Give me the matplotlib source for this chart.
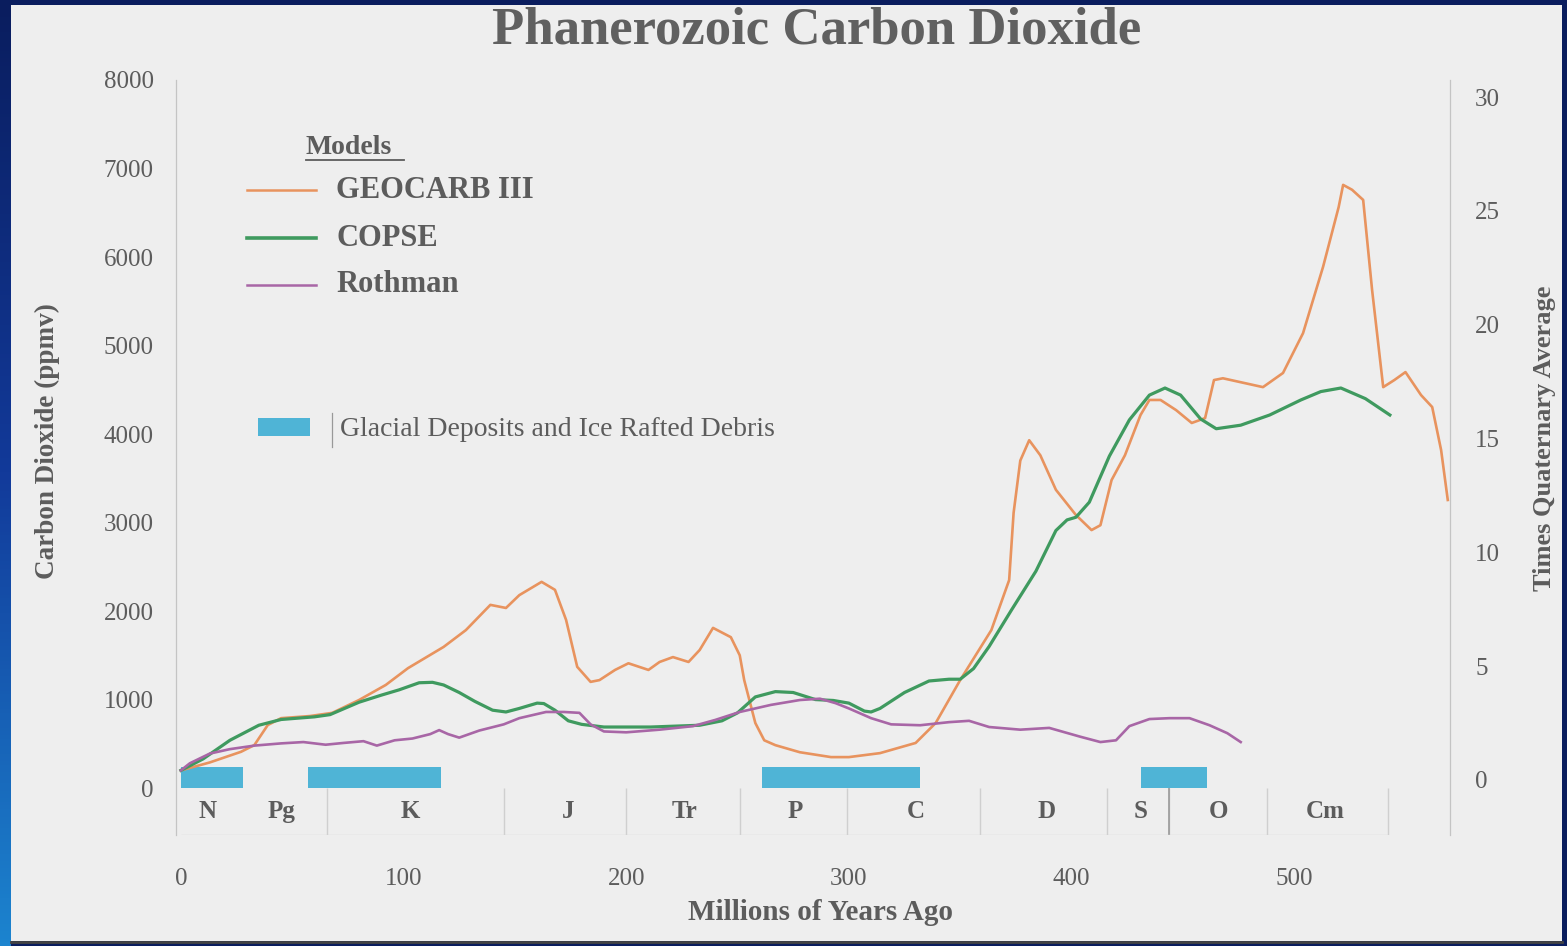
import matplotlib.pyplot as plt
import numpy as np
from matplotlib.patches import Rectangle
from matplotlib.lines import Line2D
from matplotlib.colors import LinearSegmentedColormap

# Data (millions of years ago, ppmv)
geocarb_age = [0, 13, 27, 33, 39, 45, 58, 68, 80, 92, 102, 118, 128, 139, 146, 152, 162, 168,
               173, 178, 184, 188, 195, 201, 210, 215, 221, 228, 233, 239, 247, 251, 253, 258,
               262, 267, 278, 292, 300, 314, 330, 339, 350, 364, 372, 374, 377, 381, 386, 393,
               402, 409, 413, 418, 424, 431, 435, 440, 447, 454, 460, 464, 468, 486, 495, 504,
               513, 520, 522, 526, 531, 535, 540, 545, 550, 557, 562, 566, 569]
geocarb_co2 = [200, 290, 410, 486, 712, 790, 814, 850, 995, 1165, 1355, 1595, 1785, 2070, 2035,
               2180, 2330, 2240, 1900, 1370, 1200, 1220, 1335, 1410, 1335, 1425, 1480, 1425, 1560,
               1810, 1705, 1500, 1220, 735, 540, 485, 405, 350, 350, 395, 510, 735, 1220, 1785,
               2350, 3110, 3700, 3930, 3760, 3370, 3085, 2915, 2970, 3480, 3760, 4215, 4385, 4385,
               4270, 4125, 4180, 4610, 4630, 4530, 4690, 5140, 5890, 6565, 6815, 6760, 6645, 5630,
               4530, 4610, 4700, 4440, 4305, 3820, 3255]

copse_age = [0, 10, 22, 35, 45, 60, 67, 80, 90, 98, 107, 113, 118, 125, 132, 140, 146, 152, 160,
             163, 168, 174, 180, 190, 211, 233, 243, 250, 258, 267, 275, 285, 293, 300, 307, 310,
             314, 325, 336, 345, 350, 356, 363, 373, 384, 393, 398, 402, 408, 417, 426, 435, 442,
             449, 458, 465, 476, 489, 503, 512, 521, 532, 543]
copse_co2 = [200, 330, 540, 710, 775, 805, 830, 970, 1050, 1110, 1190, 1195, 1165, 1080, 980, 880,
             860, 900, 960, 955, 880, 760, 720, 690, 690, 710, 760, 850, 1030, 1090, 1080, 1000,
             990, 960, 870, 860, 900, 1080, 1210, 1230, 1230, 1350, 1600, 2010, 2450, 2910, 3030,
             3060, 3230, 3750, 4160, 4440, 4520, 4440, 4170, 4060, 4100, 4215, 4385, 4480, 4520,
             4400, 4215]

rothman_age = [0, 4, 13, 22, 33, 45, 55, 65, 73, 82, 88, 96, 104, 112, 116, 120, 125, 134, 145,
               152, 164, 172, 179, 184, 190, 200, 215, 230, 240, 251, 265, 278, 287, 294, 300, 310,
               319, 332, 345, 354, 363, 377, 390, 404, 413, 420, 426, 435, 444, 453, 462, 470, 476]
rothman_co2 = [200, 280, 390, 440, 480, 505, 520, 490, 510, 530, 480, 540, 560, 610, 655, 610, 570,
               650, 720, 790, 860, 860, 850, 720, 640, 630, 660, 700, 770, 860, 940, 995, 1010, 960,
               900, 790, 720, 710, 745, 760, 690, 660, 680, 580, 520, 540, 700, 780, 790, 790, 710,
               620, 520]

glacial_start = [0, 57, 261, 431]
glacial_end = [28, 117, 332, 461]

period_bounds = [65.5, 145, 200, 251, 299, 359, 416, 444, 488, 542]
period_names = ['N', 'Pg', 'K', 'J', 'Tr', 'P', 'C', 'D', 'S', 'O', 'Cm']
period_mid = [12, 45, 103, 174, 226, 276, 330, 389, 431, 466, 514]

W, H = 1567, 946
GRAY = '#5c5c5c'
SERIF = ['Liberation Serif', 'DejaVu Serif']


def fx(px):
    return px / W


def fy(py):
    return 1 - py / H


fig = plt.figure(figsize=(W / 100, H / 100), dpi=100)
fig.patch.set_facecolor('#0a1d5e')

# left blue strip with gradient
gax = fig.add_axes([0, 0, fx(11), 1])
grad = np.linspace(0, 1, 256).reshape(-1, 1)
gax.imshow(grad, aspect='auto', extent=[0, 1, 0, 1],
           cmap=LinearSegmentedColormap.from_list('b', ['#0a1d5e', '#123a9a', '#1c84cf']))
gax.set_axis_off()

# light panel
fig.patches.append(Rectangle((fx(11), fy(941)), fx(1562) - fx(11), fy(5) - fy(941),
                             transform=fig.transFigure, facecolor='#eeeeee',
                             edgecolor='none', zorder=-1))
fig.add_artist(Line2D([fx(11), fx(1562)], [fy(942), fy(942)], color='#444444', lw=2))

ax = fig.add_axes([fx(176), fy(835), fx(1450) - fx(176), fy(80) - fy(835)])
ax.set_facecolor('none')
ax.set_xlim(-2.2, 570)
ax.set_ylim(-530, 8000)
for s in ['top', 'bottom']:
    ax.spines[s].set_visible(False)
for s in ['left', 'right']:
    ax.spines[s].set_color('#c4c4c4')
    ax.spines[s].set_linewidth(0.9)

ax.set_yticks(range(0, 8001, 1000))
ax.set_xticks(range(0, 501, 100))
ax.tick_params(length=0, labelsize=18, labelcolor=GRAY)
ax.tick_params(axis='y', pad=16)
ax.tick_params(axis='x', pad=24)
for lab in ax.get_xticklabels() + ax.get_yticklabels():
    lab.set_family(SERIF)

ax2 = ax.twinx()
ax2.set_ylim(-2.42, 30.75)
ax2.set_yticks(range(0, 31, 5))
ax2.tick_params(length=0, labelsize=18, labelcolor=GRAY, pad=18)
for lab in ax2.get_yticklabels():
    lab.set_family(SERIF)
for s in ax2.spines.values():
    s.set_visible(False)

# glacial bars
ax.bar(glacial_start, 240, width=[e - s for s, e in zip(glacial_start, glacial_end)],
       bottom=0, align='edge', color='#4fb4d6', zorder=2)

# geologic period row
ax.vlines(period_bounds, -530, 0, colors='#cfcfcf', lw=1)
ax.vlines([444], -530, 0, colors='#9a9a9a', lw=1.2)
ax.hlines(-530, 0, 542, colors='#d6d6d6', lw=1)
for name, m in zip(period_names, period_mid):
    ax.text(m, -270, name, ha='center', va='center', fontsize=18, fontweight='bold',
            color=GRAY, family=SERIF)

c_geo = '#e8935e'
c_cop = '#3f9a5f'
c_rot = '#a866a6'
ax.plot(geocarb_age, geocarb_co2, color=c_geo, lw=1.9, zorder=3)
ax.plot(copse_age, copse_co2, color=c_cop, lw=2.3, zorder=3)
ax.plot(rothman_age, rothman_co2, color=c_rot, lw=1.9, zorder=3)

# texts
fig.text(fx(817), fy(31), 'Phanerozoic Carbon Dioxide', ha='center', va='center',
         fontsize=38, fontweight='bold', color='#606060', family=SERIF)
fig.text(fx(47), fy(441), 'Carbon Dioxide (ppmv)', rotation=90, ha='center', va='center',
         fontsize=19.5, fontweight='bold', color=GRAY, family=SERIF)
fig.text(fx(1545), fy(438), 'Times Quaternary Average', rotation=90, ha='center', va='center',
         fontsize=19, fontweight='bold', color=GRAY, family=SERIF)
fig.text(fx(820), fy(912), 'Millions of Years Ago', ha='center', va='center',
         fontsize=21, fontweight='bold', color=GRAY, family=SERIF)

# legend
fig.text(fx(306), fy(147), 'Models', ha='left', va='center', fontsize=20,
         fontweight='bold', color=GRAY, family=SERIF)
fig.add_artist(Line2D([fx(306), fx(404)], [fy(160), fy(160)], color=GRAY, lw=1.3))
for yy, lab, col, lw in [(190, 'GEOCARB III', c_geo, 1.8), (238, 'COPSE', c_cop, 2.6),
                         (285, 'Rothman', c_rot, 1.8)]:
    fig.add_artist(Line2D([fx(247), fx(316)], [fy(yy), fy(yy)], color=col, lw=lw))
    fig.text(fx(336), fy(yy), lab, ha='left', va='center', fontsize=22,
             fontweight='bold', color=GRAY, family=SERIF)

fig.patches.append(Rectangle((fx(258), fy(436)), fx(310) - fx(258), fy(418) - fy(436),
                             transform=fig.transFigure, facecolor='#4fb4d6',
                             edgecolor='none', zorder=1))
fig.add_artist(Line2D([fx(332), fx(332)], [fy(413), fy(447)], color='#999999', lw=0.9))
fig.text(fx(340), fy(429), 'Glacial Deposits and Ice Rafted Debris', ha='left', va='center',
         fontsize=20, color=GRAY, family=SERIF)

fig.savefig('out.png', dpi=100, facecolor=fig.get_facecolor())
